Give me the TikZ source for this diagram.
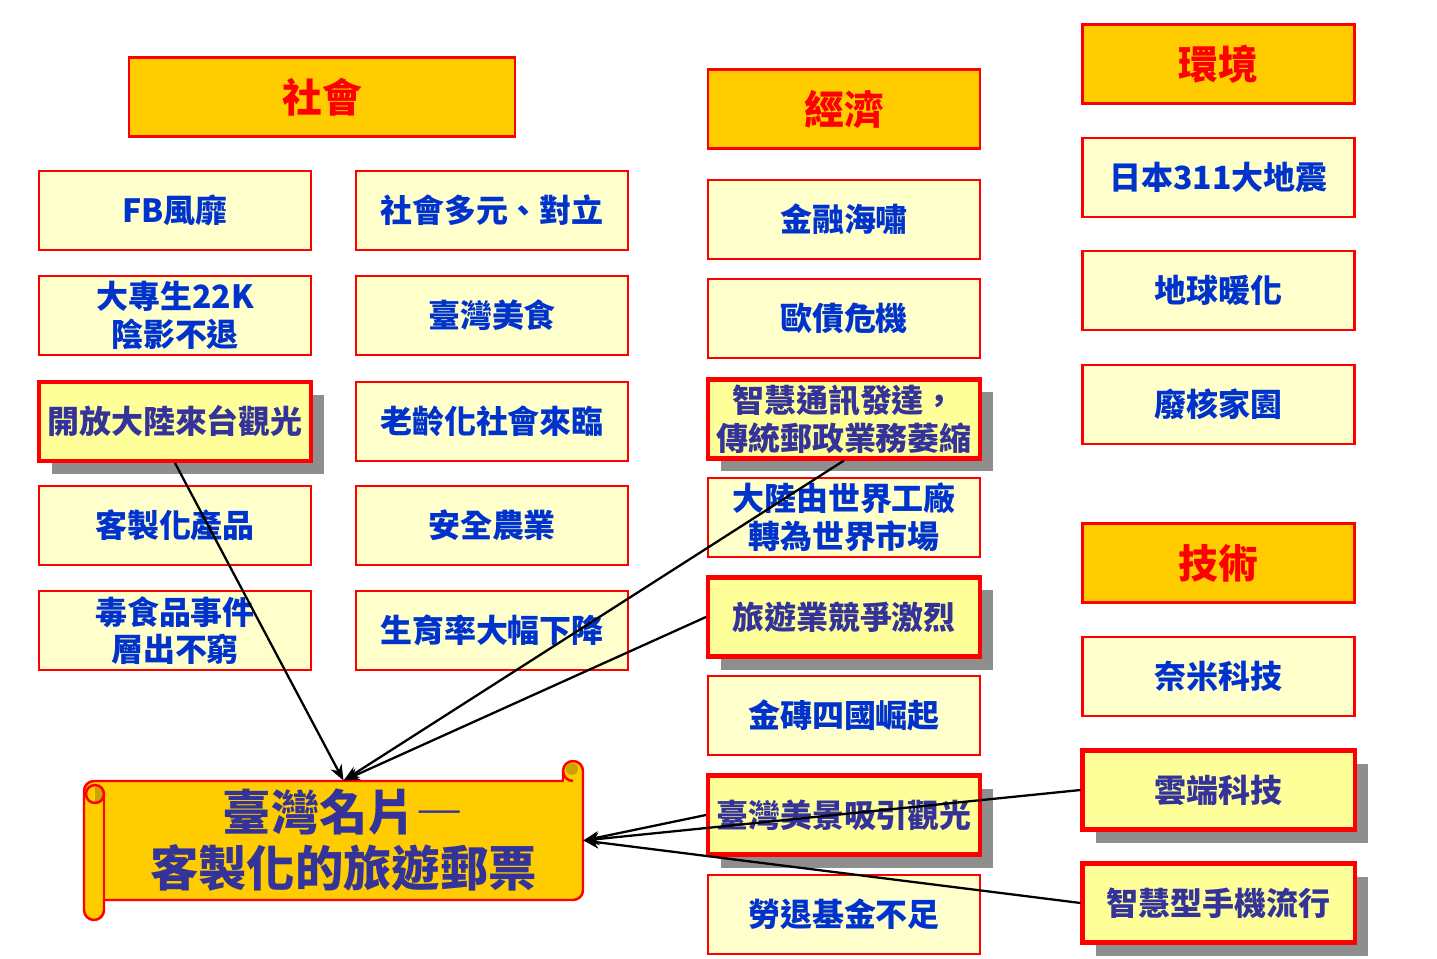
\documentclass[tikz,border=0pt]{standalone}
\usepackage{fontspec}
\setmainfont{Noto Sans CJK TC}
\usetikzlibrary{arrows.meta,shadows}

\definecolor{topicgold}{HTML}{FFCC00}
\definecolor{factpale}{HTML}{FFFFCC}
\definecolor{hotpale}{HTML}{FFFF99}
\definecolor{factblue}{HTML}{0033CC}
\definecolor{hotblue}{HTML}{333399}
\definecolor{shadegray}{HTML}{8E8E8E}
\definecolor{curlgold}{HTML}{CCA300}

\tikzset{
  topic/.style={draw=red, line width=1.2pt, fill=topicgold, text=red,
    minimum width=54.4mm, minimum height=15.8mm, inner sep=0pt,
    font=\fontsize{22.6}{27}\selectfont\bfseries},
  fact/.style={draw=red, line width=1.2pt, fill=factpale, text=factblue,
    minimum width=54.4mm, minimum height=15.8mm, inner sep=0pt, align=center,
    font=\fontsize{18.2}{21.5}\selectfont\bfseries},
  hotfact/.style={fact, line width=2.3pt, fill=hotpale, text=hotblue,
    drop shadow={shadow xshift=2.6mm, shadow yshift=-2.6mm, fill=shadegray, opacity=1}},
  scrollline/.style={draw=red, line width=1.4pt, line join=round},
  link/.style={line width=1.3pt},
}

\begin{document}
\begin{tikzpicture}[x=0.2mm, y=0.2mm, >={Stealth[length=9pt,width=7pt]}]

\useasboundingbox (0,0) rectangle (1437,958);

% Headers
\node[topic, minimum width=77.2mm] (soc) at (322,861) {社會};
\node[topic] (eco) at (844,849) {經濟};
\node[topic] (env) at (1218.5,894) {環境};
\node[topic] (tech) at (1218.5,395) {技術};

% Society, first column
\node[fact] (fb) at (175,747.5) {FB風靡};
\node[fact] (grad) at (175,642.5) {大專生22K\\陰影不退};
\node[hotfact] (open) at (175,536.5) {開放大陸來台觀光};
\node[fact] (custom) at (175,432.5) {客製化產品};
\node[fact] (toxic) at (175,327.5) {毒食品事件\\層出不窮};

% Society, second column
\node[fact] (diverse) at (492,747.5) {社會多元、對立};
\node[fact] (food) at (492,642.5) {臺灣美食};
\node[fact] (aging) at (492,536.5) {老齡化社會來臨};
\node[fact] (agri) at (492,432.5) {安全農業};
\node[fact] (birth) at (492,327.5) {生育率大幅下降};

% Economy
\node[fact] (crisis) at (844,738.5) {金融海嘯};
\node[fact] (euro) at (844,639.5) {歐債危機};
\node[hotfact] (smartcomm) at (844,539) {智慧通訊發達，\\傳統郵政業務萎縮};
\node[fact] (market) at (844,440.5) {大陸由世界工廠\\轉為世界市場};
\node[hotfact] (rivalry) at (844,341) {旅遊業競爭激烈};
\node[fact] (brics) at (844,242.5) {金磚四國崛起};
\node[hotfact] (scenery) at (844,143) {臺灣美景吸引觀光};
\node[fact] (pension) at (844,43.5) {勞退基金不足};

% Environment
\node[fact] (quake) at (1218.5,780.5) {日本311大地震};
\node[fact] (warming) at (1218.5,667.5) {地球暖化};
\node[fact] (nuclear) at (1218.5,553.5) {廢核家園};

% Technology
\node[fact] (nano) at (1218.5,281.5) {奈米科技};
\node[hotfact] (cloud) at (1218.5,168) {雲端科技};
\node[hotfact] (phone) at (1218.5,55) {智慧型手機流行};

% Scroll
\draw[scrollline, fill=topicgold]
(94,177) -- (563,177) -- (563,187)
arc[start angle=180, end angle=0, radius=10]
-- (583,68) arc[start angle=0, end angle=-90, radius=10]
-- (104,58) -- (104,48) arc[start angle=0, end angle=-180, radius=10]
-- (84,167) arc[start angle=180, end angle=90, radius=10] -- cycle;
% right curl
\fill[curlgold] (572,189) circle[radius=6];
\draw[scrollline] (563,187) arc[start angle=180, end angle=270, radius=10];
% left curl
\draw[scrollline] (104,58) -- (104,164);
\fill[curlgold] (95,155) arc[start angle=-90, end angle=90, radius=9] -- cycle;
\draw[scrollline] (95,164) circle[radius=9];

\node[text=hotblue, align=center, minimum width=95.8mm, minimum height=23.8mm,
  font=\fontsize{27.5}{32}\selectfont\bfseries] (card) at (343.5,117.5)
 {臺灣名片{\addfontfeatures{RawFeature=+fwid}—}\\客製化的旅遊郵票};

% Links to the card
\draw[->, link] (open.south) -- (card.north);
\draw[->, link] (smartcomm.south) -- (card.north);
\draw[->, link] (rivalry.west) -- (card.north);
\draw[->, link] (scenery.west) -- (card.east);
\draw[->, link] (cloud.west) -- (card.east);
\draw[->, link] (phone.west) -- (card.east);

\end{tikzpicture}
\end{document}
